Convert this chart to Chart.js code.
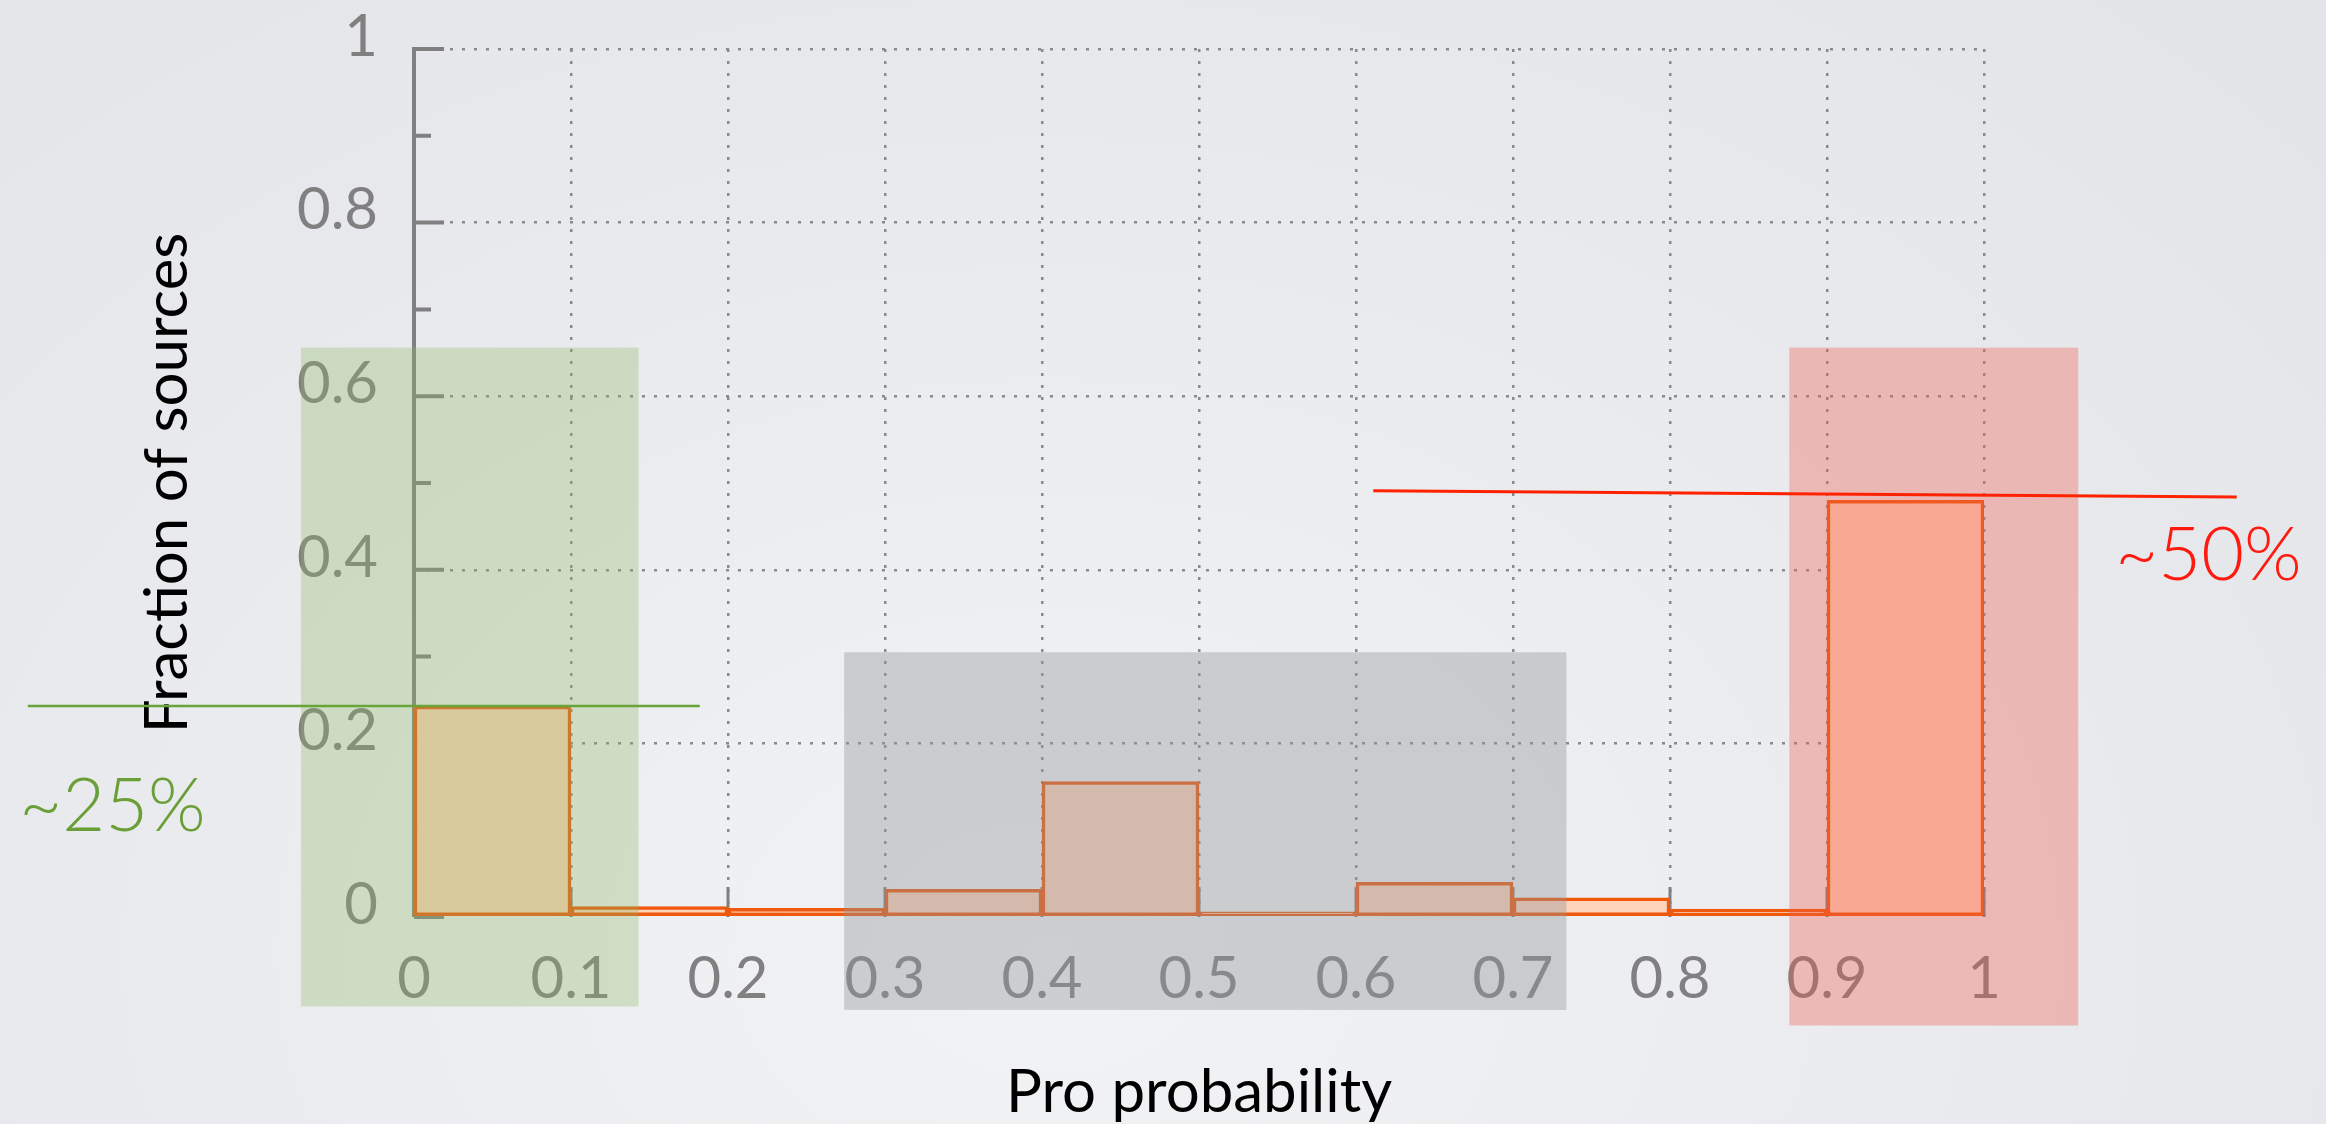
<!DOCTYPE html>
<html>
<head>
<meta charset="utf-8">
<script src="https://cdn.jsdelivr.net/npm/chart.js@4.4.1/dist/chart.umd.min.js"></script>
<style>
html, body { margin: 0; padding: 0; }
body {
    width: 2326px;
    height: 1124px;
    overflow: hidden;
    background: radial-gradient(ellipse at 45% 85%, #f2f3f5 0%, #e9eaed 55%, #e3e4e8 100%);
}
canvas { display: block; }
</style>
</head>
<body>
<canvas id="proProbabilityChart" width="2326" height="1124"></canvas>
<script>
var binCenters = [0.05, 0.15, 0.25, 0.35, 0.45, 0.55, 0.65, 0.75, 0.85, 0.95];
var sourceFractions = [0.243, 0.012, 0.010, 0.032, 0.156, 0.006, 0.040, 0.022, 0.009, 0.480];
var xTickLabels = ['0', '0.1', '0.2', '0.3', '0.4', '0.5', '0.6', '0.7', '0.8', '0.9', '1'];
var yTickLabels = ['0', '0.2', '0.4', '0.6', '0.8', '1'];

// shaded ranges in axis units: [xFrom, xTo, yFrom, yTo]
var lowRange = [-0.072, 0.143, -0.103, 0.656];
var midRange = [0.274, 0.734, -0.107, 0.305];
var highRange = [0.876, 1.060, -0.125, 0.656];
// marker lines in axis units: [x1, y1, x2, y2]
var lowLine = [-0.246, 0.243, 0.182, 0.243];
var highLine = [0.611, 0.491, 1.161, 0.484];
var lowNote = { text: '~25%', x: -0.192, y: 0.127 };
var highNote = { text: '~50%', x: 1.143, y: 0.416 };

var axisGray = '#808080';
var gridGray = '#8a8a8a';

var ctx = document.getElementById('proProbabilityChart').getContext('2d');

// gnuplot-like axis: left line with inward ticks, inward ticks on the bottom
var axisPlugin = {
    id: 'inwardAxis',
    beforeDatasetsDraw: function (chart) {
        var c = chart.ctx;
        var xs = chart.scales.x;
        var ys = chart.scales.y;
        var x0 = xs.getPixelForValue(0);
        var y0 = ys.getPixelForValue(0);

        c.save();
        c.strokeStyle = axisGray;
        c.lineWidth = 4;
        c.beginPath();
        c.moveTo(x0, y0);
        c.lineTo(x0, ys.getPixelForValue(1) - 2);
        ys.ticks.forEach(function (t, i) {
            var py = ys.getPixelForValue(t.value);
            c.moveTo(x0, py);
            c.lineTo(x0 + (i % 2 === 0 ? 30 : 17), py);
        });
        c.stroke();

        c.lineWidth = 3;
        c.beginPath();
        xs.ticks.forEach(function (t, i) {
            if (i === 0) return;
            var px = xs.getPixelForValue(t.value);
            c.moveTo(px, y0);
            c.lineTo(px, y0 - 30);
        });
        c.stroke();
        c.restore();
    },
    afterDraw: function (chart) {
        var c = chart.ctx;
        var xs = chart.scales.x;
        var ys = chart.scales.y;

        function band(r, color) {
            var l = xs.getPixelForValue(r[0]);
            var rr = xs.getPixelForValue(r[1]);
            var b = ys.getPixelForValue(r[2]);
            var t = ys.getPixelForValue(r[3]);
            c.fillStyle = color;
            c.fillRect(l, t, rr - l, b - t);
        }
        function line(p, color, width) {
            c.strokeStyle = color;
            c.lineWidth = width;
            c.beginPath();
            c.moveTo(xs.getPixelForValue(p[0]), ys.getPixelForValue(p[1]));
            c.lineTo(xs.getPixelForValue(p[2]), ys.getPixelForValue(p[3]));
            c.stroke();
        }
        function note(n, color) {
            c.fillStyle = color;
            c.font = '300 74px Lato';
            c.textAlign = 'center';
            c.textBaseline = 'middle';
            c.fillText(n.text, xs.getPixelForValue(n.x), ys.getPixelForValue(n.y));
        }

        c.save();
        band(lowRange, 'rgba(140, 185, 100, 0.32)');
        band(midRange, 'rgba(148, 149, 152, 0.40)');
        band(highRange, 'rgba(240, 93, 76, 0.35)');
        line(lowLine, '#6aa33a', 2.5);
        line(highLine, '#ff2200', 3);
        note(lowNote, '#6a9f38');
        note(highNote, '#ff1a10');
        c.restore();
    }
};

var histogramChart = new Chart(ctx, {
    type: 'bar',
    data: {
        datasets: [{
            data: binCenters.map(function (x, i) { return { x: x, y: sourceFractions[i] }; }),
            backgroundColor: '#fdd3b9',
            borderColor: '#f0580c',
            borderWidth: 3.5,
            borderSkipped: false,
            barPercentage: 1,
            categoryPercentage: 1
        }]
    },
    options: {
        responsive: false,
        animation: false,
        devicePixelRatio: 1,
        layout: {
            padding: { left: 0, right: 342, top: 49, bottom: 0 }
        },
        plugins: {
            legend: { display: false },
            tooltip: { enabled: false }
        },
        scales: {
            x: {
                type: 'linear',
                min: 0,
                max: 1,
                offset: false,
                afterFit: function (scale) {
                    scale.height = 207;
                    scale.paddingLeft = 0;
                    scale.paddingRight = 0;
                },
                grid: {
                    offset: false,
                    drawTicks: false,
                    lineWidth: 2.5,
                    color: function (c) { return c.index === 0 ? 'rgba(0,0,0,0)' : gridGray; }
                },
                border: { display: false, dash: [3, 9] },
                ticks: {
                    stepSize: 0.1,
                    autoSkip: false,
                    maxRotation: 0,
                    padding: 27,
                    color: axisGray,
                    font: { family: 'Lato', size: 58 },
                    callback: function (v, i) { return xTickLabels[i]; }
                },
                title: {
                    display: true,
                    text: 'Pro probability',
                    color: '#000000',
                    font: { family: 'Lato', size: 60, lineHeight: 1 },
                    padding: { top: 0, bottom: 1 }
                }
            },
            y: {
                min: 0,
                max: 1,
                afterFit: function (scale) {
                    scale.width = 414;
                    scale.paddingTop = 0;
                    scale.paddingBottom = 0;
                },
                grid: {
                    drawTicks: false,
                    lineWidth: 2.5,
                    color: function (c) {
                        return (c.index === 0 || c.index % 2 === 1) ? 'rgba(0,0,0,0)' : gridGray;
                    }
                },
                border: { display: false, dash: [3, 9] },
                ticks: {
                    stepSize: 0.1,
                    autoSkip: false,
                    padding: 36,
                    labelOffset: -12,
                    color: axisGray,
                    font: { family: 'Lato', size: 58 },
                    callback: function (v, i) { return i % 2 === 0 ? yTickLabels[i / 2] : ''; }
                },
                title: {
                    display: true,
                    text: 'Fraction of sources',
                    color: '#000000',
                    font: { family: 'Lato', size: 60, lineHeight: 1 },
                    padding: { top: 138, bottom: 0 }
                }
            }
        }
    },
    plugins: [axisPlugin]
});
</script>
</body>
</html>
